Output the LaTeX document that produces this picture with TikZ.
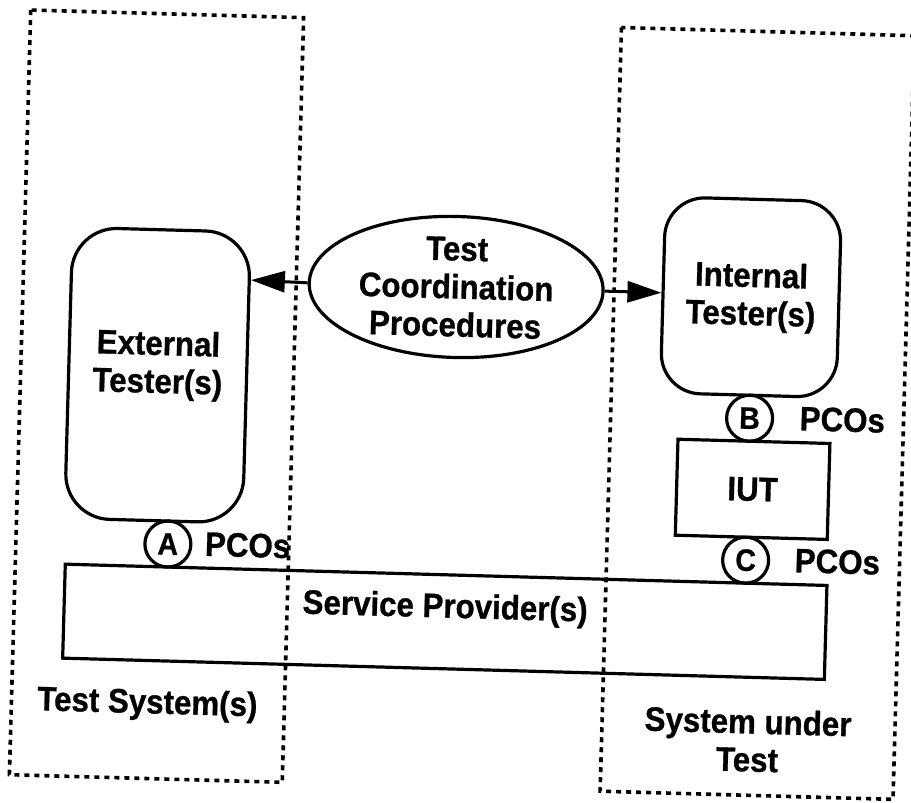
\documentclass[tikz,border=0pt]{standalone}
\usepackage{fontspec}
\setmainfont{Liberation Sans}[FakeStretch=0.92,FakeBold=0.8]
\usetikzlibrary{shapes.geometric,arrows.meta,calc}
\begin{document}
\begin{tikzpicture}[x=1pt,y=-1pt,
  txt/.style={font=\bfseries\fontsize{34}{38}\selectfont, align=center, inner sep=0pt},
  sysbox/.style={draw, line width=3.6pt, dash pattern=on 5pt off 5pt},
  rbox/.style={draw, line width=3.2pt, txt},
  pbox/.style={draw, line width=3.2pt, txt},
  pco/.style={draw, circle, line width=3.2pt, minimum size=46pt, inner sep=0pt, font=\bfseries\fontsize{31}{34}\selectfont},
  conn/.style={line width=3pt, -{Triangle[length=34pt,width=21pt]}}
]
\useasboundingbox (0,0) rectangle (911,803);
\begin{scope}[rotate around={-1.6:(455,400)}, transform shape]
% system boundaries
\draw[sysbox] (20,22) rectangle (293,787);
\draw[sysbox] (611,23) rectangle (904,787);
% nodes
\node[rbox, rounded corners=45pt, minimum width=178pt, minimum height=291pt,
      label={[txt,yshift=10pt]center:External\\Tester(s)}] (ext) at (157,383.5) {};
\node[draw, ellipse, line width=3.2pt, minimum width=294pt, minimum height=118pt, inner sep=0pt, txt] (tcp) at (453,287) {Test\\Coordination\\Procedures};
\node[rbox, rounded corners=40pt, minimum width=176pt, minimum height=196pt] (int) at (748,289) {Internal\\Tester(s)};
\node[pco] (B) at (750,410) {B};
\node[pbox, minimum width=152pt, minimum height=96pt] (iut) at (755,481) {IUT};
\node[pco] (C) at (750,552) {C};
\node[pco] (A) at (172,552) {A};
\node[pbox, minimum width=762pt, minimum height=94pt,
      label={[txt,yshift=13pt]center:Service Provider(s)}] (sp) at (451,622) {};
% labels
\node[txt, anchor=west] (pa) at (209,551) {PCOs};
\node[txt, anchor=west] (pb) at (800,409) {PCOs};
\node[txt, anchor=west] (pc) at (799,551) {PCOs};
\node[txt] (ts) at (156,713) {Test System(s)};
\node[txt] (sut) at (757,732) {System under\\Test};
% connectors
\draw[conn] (tcp.west) -- ($(ext.north east)!0.168!(ext.south east)$);
\draw[conn] (tcp.east) -- ($(int.north west)!0.49!(int.south west)$);
\end{scope}
\end{tikzpicture}
\end{document}
